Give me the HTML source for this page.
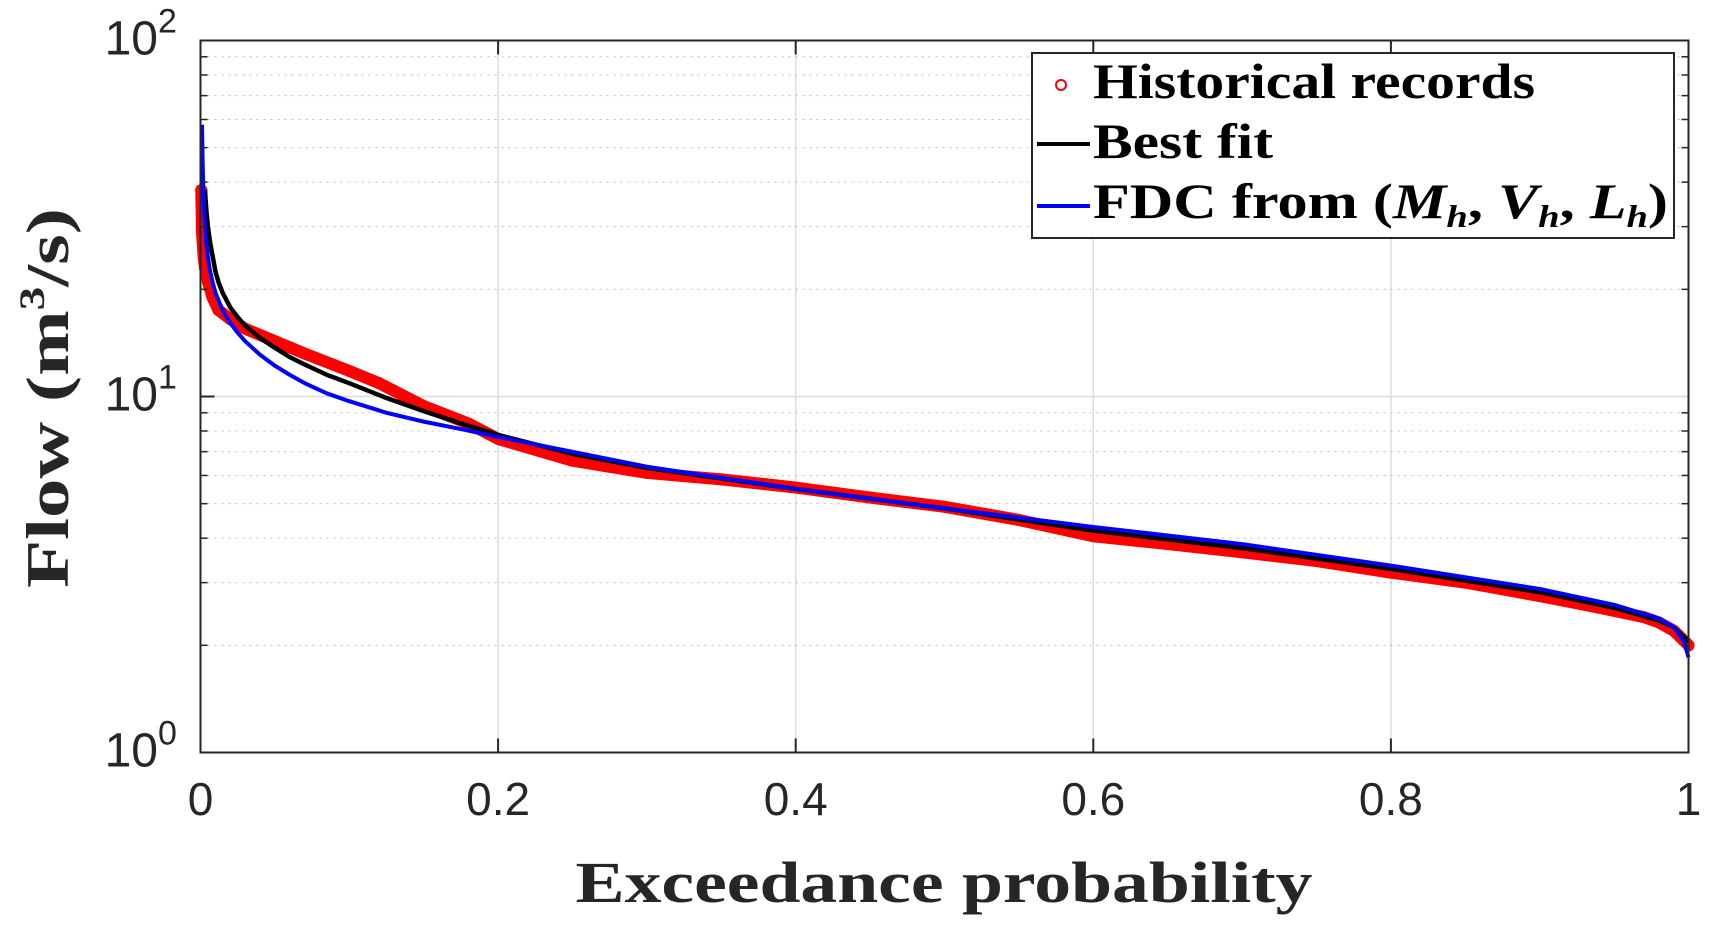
<!DOCTYPE html>
<html><head><meta charset="utf-8"><style>
html,body{margin:0;padding:0;background:#fff;}
svg{display:block;}
</style></head><body>
<svg id="chart" width="1710" height="930" viewBox="0 0 1710 930" xmlns="http://www.w3.org/2000/svg">
<rect width="1710" height="930" fill="#fff"/>
<g id="grid"></g>
<g id="series"></g>
<rect x="200.5" y="40.5" width="1488" height="712" fill="none" stroke="#262626" stroke-width="2"/>
<g id="ticks"></g>
<text x="944" y="902" text-anchor="middle" font-family="Liberation Serif, serif" font-weight="bold" font-size="58" fill="#262626" textLength="737" lengthAdjust="spacingAndGlyphs">Exceedance probability</text>
<text transform="translate(68,398) rotate(-90)" text-anchor="middle" font-family="Liberation Serif, serif" font-weight="bold" font-size="60" fill="#262626" textLength="380" lengthAdjust="spacingAndGlyphs">Flow (m<tspan font-size="36" dy="-24">3</tspan><tspan dy="24">/s)</tspan></text>
<g>
<rect x="1032" y="53" width="642" height="185" fill="#fff" stroke="#262626" stroke-width="2"/>
<g>
<circle cx="1061" cy="85" r="5" fill="none" stroke="#f00" stroke-width="2"/>
<text x="1093" y="98" font-family="Liberation Serif, serif" font-weight="bold" font-size="50" fill="#000" textLength="442" lengthAdjust="spacingAndGlyphs">Historical records</text>
</g>
<g>
<line x1="1037" y1="144" x2="1090" y2="144" stroke="#000" stroke-width="4"/>
<text x="1093" y="158" font-family="Liberation Serif, serif" font-weight="bold" font-size="50" fill="#000" textLength="180" lengthAdjust="spacingAndGlyphs">Best fit</text>
</g>
<g>
<line x1="1037" y1="206" x2="1090" y2="206" stroke="#00f" stroke-width="4"/>
<text x="1093" y="218" font-family="Liberation Serif, serif" font-weight="bold" font-size="50" fill="#000" textLength="575" lengthAdjust="spacingAndGlyphs">FDC from (<tspan font-style="italic">M</tspan><tspan font-style="italic" font-size="32" dy="9">h</tspan><tspan dy="-9">, </tspan><tspan font-style="italic">V</tspan><tspan font-style="italic" font-size="32" dy="9">h</tspan><tspan dy="-9">, </tspan><tspan font-style="italic">L</tspan><tspan font-style="italic" font-size="32" dy="9">h</tspan><tspan dy="-9">)</tspan></text>
</g>
</g>
</svg>
<script>
const xTicks = [0, 0.2, 0.4, 0.6, 0.8, 1];
const xTickLabels = ["0", "0.2", "0.4", "0.6", "0.8", "1"];
const yDecades = [0, 1, 2];
// Historical records (exceedance probability, flow)
const histP = [0.0005,0.001,0.0015,0.002,0.003,0.005,0.008,0.012,0.02,0.03,0.05,0.07,0.1,0.12,0.15,0.18,0.2,0.25,0.3,0.35,0.4,0.45,0.5,0.55,0.6,0.65,0.7,0.75,0.8,0.85,0.9,0.93,0.95,0.97,0.98,0.99,0.995,1.0];
const histQ = [38,29,27,25,23,21,19,17.5,16.5,15.5,14.3,13.2,11.8,10.9,9.4,8.4,7.6,6.6,6.1,5.85,5.55,5.2,4.9,4.5,4.05,3.85,3.65,3.45,3.2,3.0,2.75,2.6,2.5,2.4,2.32,2.2,2.1,2.0];
// Best fit
const fitP = [0.003,0.004,0.005,0.0065,0.008,0.01,0.012,0.015,0.02,0.025,0.03,0.04,0.05,0.06,0.07,0.085,0.1,0.125,0.15,0.175,0.2,0.25,0.3,0.4,0.5,0.6,0.7,0.8,0.9,0.95,0.98,0.99,1.0];
const fitQ = [38,33,30,27,25,22.5,21,19.5,17.8,16.7,15.8,14.6,13.7,12.9,12.3,11.5,10.9,9.9,9.1,8.4,7.8,6.9,6.3,5.5,4.85,4.2,3.75,3.28,2.82,2.55,2.35,2.25,2.05];
// FDC from (Mh, Vh, Lh)
const fdcP = [0.001,0.0015,0.002,0.003,0.004,0.006,0.008,0.01,0.013,0.016,0.02,0.025,0.03,0.04,0.05,0.06,0.07,0.085,0.1,0.125,0.15,0.175,0.2,0.3,0.4,0.5,0.6,0.7,0.8,0.9,0.95,0.98,0.99,0.997,1.0];
const fdcQ = [58,44,37,30,26.5,23,21,19.6,18.2,17.1,16.1,15.1,14.3,13.1,12.2,11.5,10.9,10.2,9.7,9.0,8.5,8.1,7.7,6.35,5.5,4.85,4.3,3.85,3.35,2.88,2.6,2.38,2.25,2.05,1.85];

const X0 = 200.5, X1 = 1688.5, Y0 = 752.5, Y1 = 40.5;
const xs = p => X0 + p * (X1 - X0);
const ys = q => Y0 - Math.log10(q) / 2 * (Y0 - Y1);
const NS = "http://www.w3.org/2000/svg";
function mk(tag, attrs, parent) {
  const e = document.createElementNS(NS, tag);
  for (const k in attrs) e.setAttribute(k, attrs[k]);
  parent.appendChild(e);
  return e;
}
const grid = document.getElementById('grid');
const ticks = document.getElementById('ticks');
const series = document.getElementById('series');

xTicks.forEach((t, i) => {
  const x = xs(t);
  if (i > 0 && i < xTicks.length - 1) {
    const g = mk('line', {x1: x, x2: x, y1: Y1, y2: Y0, stroke: '#dcdcdc', 'stroke-width': 1.5}, grid);
    
    
    const tk = mk('line', {x1: x, x2: x, y1: Y0, y2: Y0 - 14, stroke: '#262626', 'stroke-width': 2}, ticks);
    
    
    const tk2 = mk('line', {x1: x, x2: x, y1: Y1, y2: Y1 + 14, stroke: '#262626', 'stroke-width': 2}, ticks);
    
    
  }
  const lb = mk('text', {x: x, y: 815, 'text-anchor': 'middle', 'font-family': 'Liberation Sans, sans-serif', 'font-size': 46, fill: '#262626'}, ticks);
  lb.textContent = xTickLabels[i];
  
  
});

yDecades.forEach(d => {
  const y = ys(Math.pow(10, d));
  if (d === 1) {
    const g = mk('line', {x1: X0, x2: X1, y1: y, y2: y, stroke: '#dcdcdc', 'stroke-width': 1.5}, grid);
    
    
    const tk = mk('line', {x1: X0, x2: X0 + 14, y1: y, y2: y, stroke: '#262626', 'stroke-width': 2}, ticks);
    
    
  }
  const lb = mk('text', {x: 158, y: y + 14, 'text-anchor': 'end', 'font-family': 'Liberation Sans, sans-serif', 'font-size': 48, fill: '#262626'}, ticks);
  lb.textContent = '10';
  
  
  const sup = mk('text', {x: 158, y: y - 8, 'text-anchor': 'start', 'font-family': 'Liberation Sans, sans-serif', 'font-size': 34, fill: '#262626'}, ticks);
  sup.textContent = String(d);
  
  
  if (d < 2) {
    for (let m = 2; m <= 9; m++) {
      const yy = ys(m * Math.pow(10, d));
      const g = mk('line', {x1: X0, x2: X1, y1: yy, y2: yy, stroke: '#bdbdbd', 'stroke-width': 1, 'stroke-dasharray': '2 5'}, grid);
      
      
      const t1 = mk('line', {x1: X0, x2: X0 + 7, y1: yy, y2: yy, stroke: '#262626', 'stroke-width': 1.5}, ticks);
      
      
      const t2 = mk('line', {x1: X1 - 7, x2: X1, y1: yy, y2: yy, stroke: '#262626', 'stroke-width': 1.5}, ticks);
      
      
    }
  }
});

function pathOf(P, Q) {
  return P.map((p, i) => (i ? 'L' : 'M') + xs(p).toFixed(2) + ' ' + ys(Q[i]).toFixed(2)).join(' ');
}
const hb = mk('path', {d: pathOf(histP, histQ), fill: 'none', stroke: '#f00', 'stroke-width': 12, 'stroke-linejoin': 'round', 'stroke-linecap': 'round'}, series);


histP.forEach((p, i) => {
  const c = mk('circle', {cx: xs(p), cy: ys(histQ[i]), r: 5, fill: 'none', stroke: '#f00', 'stroke-width': 2}, series);
  
  
});
const bf = mk('path', {d: pathOf(fitP, fitQ), fill: 'none', stroke: '#000', 'stroke-width': 4.5, 'stroke-linejoin': 'round'}, series);


const fd = mk('path', {d: pathOf(fdcP, fdcQ), fill: 'none', stroke: '#00f', 'stroke-width': 4, 'stroke-linejoin': 'round'}, series);


</script>
</body></html>
